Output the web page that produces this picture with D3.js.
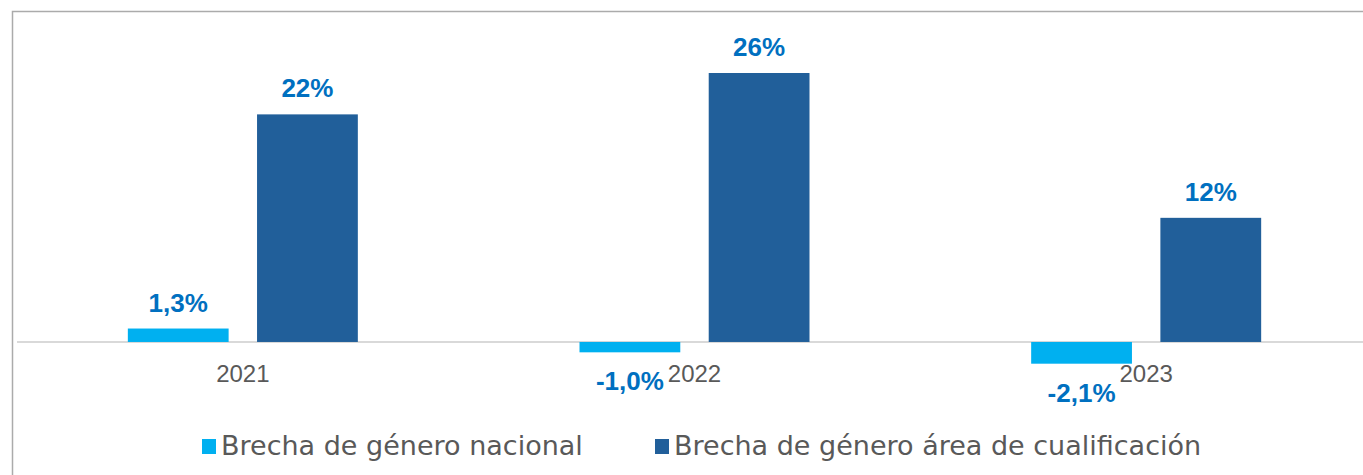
<!DOCTYPE html>
<html>
<head>
<meta charset="utf-8">
<script src="https://cdn.jsdelivr.net/npm/d3@7"></script>
<style>
  html, body { margin: 0; padding: 0; background: #fff; overflow: hidden; }
  svg { display: block; }
</style>
</head>
<body>
<div id="chart"></div>
<script>
// data
const years = ["2021", "2022", "2023"];
const nacional = [1.3, -1.0, -2.1];
const cualificacion = [22, 26, 12];
const nacionalLabels = ["1,3%", "-1,0%", "-2,1%"];
const cualificacionLabels = ["22%", "26%", "12%"];
const seriesNames = ["Brecha de género nacional", "Brecha de género área de cualificación"];

const width = 1363, height = 475;
const colLight = "#00B0F0", colDark = "#215F9A", colLabel = "#0070C0";

const svg = d3.select("#chart")
    .append("svg")
    .attr("width", width)
    .attr("height", height);

// chart frame (runs off the right and bottom of the crop)
svg.append("rect")
    .attr("x", 12.5)
    .attr("y", 11.5)
    .attr("width", width + 20)
    .attr("height", height + 20)
    .attr("fill", "none")
    .attr("stroke", "#ABABAB")
    .attr("stroke-width", 1.5);

const x = d3.scaleBand()
    .domain(years)
    .range([17, 1372])
    .paddingInner(0)
    .paddingOuter(0);

const y = d3.scaleLinear()
    .domain([-2.1, 26])
    .range([363.7, 73]);

const inner = d3.scaleBand()
    .domain([0, 1])
    .range([x.bandwidth() / 2 - 115, x.bandwidth() / 2 + 115])
    .paddingInner(0.22);

// zero line
svg.append("line")
    .attr("x1", 17)
    .attr("x2", width)
    .attr("y1", y(0))
    .attr("y2", y(0))
    .attr("stroke", "#D9D9D9")
    .attr("stroke-width", 2);

const groups = svg.selectAll("g.year")
    .data(years)
    .enter().append("g")
    .attr("class", "year")
    .attr("transform", d => "translate(" + x(d) + ",0)");

const series = [
    { vals: nacional, labels: nacionalLabels, color: colLight },
    { vals: cualificacion, labels: cualificacionLabels, color: colDark }
];

series.forEach((s, si) => {
    groups.append("rect")
        .attr("x", inner(si))
        .attr("width", inner.bandwidth())
        .attr("y", (d, i) => y(Math.max(0, s.vals[i])))
        .attr("height", (d, i) => Math.abs(y(s.vals[i]) - y(0)))
        .attr("fill", s.color);

    groups.append("text")
        .attr("x", inner(si) + inner.bandwidth() / 2)
        .attr("y", (d, i) => s.vals[i] >= 0 ? y(s.vals[i]) - 17 : y(s.vals[i]) + 38)
        .attr("text-anchor", "middle")
        .attr("font-family", "'Century Gothic', 'Liberation Sans', Arial, sans-serif")
        .attr("font-weight", "bold")
        .attr("font-size", 26)
        .attr("fill", colLabel)
        .text((d, i) => s.labels[i]);
});

// category labels, all on one row under the zero line
const axis = svg.append("g")
    .attr("transform", "translate(0," + 382 + ")")
    .call(d3.axisBottom(x).tickSize(0).tickPadding(0));
axis.select(".domain").remove();
axis.selectAll("text")
    .attr("dy", 0)
    .attr("font-family", "'Century Gothic', 'Liberation Sans', Arial, sans-serif")
    .attr("font-size", 24)
    .attr("fill", "#595959");

// legend
const legendX = [202, 655];
const legend = svg.selectAll("g.legend")
    .data(seriesNames)
    .enter().append("g")
    .attr("class", "legend")
    .attr("transform", (d, i) => "translate(" + legendX[i] + ",439)");

legend.append("rect")
    .attr("width", 14)
    .attr("height", 15)
    .attr("fill", (d, i) => i === 0 ? colLight : colDark);

legend.append("text")
    .attr("x", 19)
    .attr("y", 16)
    .attr("font-family", "'Century Gothic', 'DejaVu Sans', sans-serif")
    .attr("font-size", 27)
    .attr("fill", "#595959")
    .text(d => d);
</script>
</body>
</html>
